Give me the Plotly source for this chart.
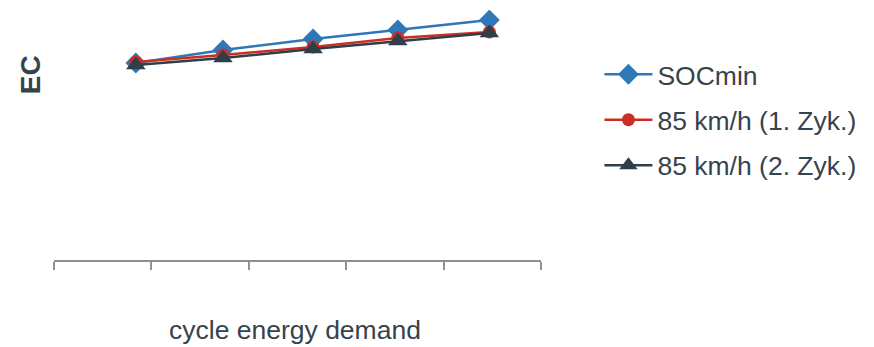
import plotly.graph_objects as go

# Data (arbitrary EC units)
x_demand = [0.84, 1.735, 2.66, 3.53, 4.47]
soc_min = [197, 210, 221, 230, 240]
kmh85_cyc1 = [198, 205, 213, 222, 228]
kmh85_cyc2 = [195, 202, 211, 219, 227]
series_names = ["SOCmin", "85 km/h (1. Zyk.)", "85 km/h (2. Zyk.)"]
x_title = "cycle energy demand"
y_title = "EC"

FONT = "Liberation Sans, Arial, sans-serif"
TXT = "#36434D"

fig = go.Figure()
fig.add_trace(go.Scatter(
    x=x_demand, y=soc_min, name=series_names[0], mode="lines+markers",
    line=dict(color="#2E78B7", width=2.5),
    marker=dict(symbol="diamond", size=16, color="#2E78B7"),
    legendgroup="a"))
fig.add_trace(go.Scatter(
    x=x_demand, y=kmh85_cyc1, name=series_names[1], mode="lines+markers",
    line=dict(color="#CC2E24", width=2.5),
    marker=dict(symbol="circle", size=13, color="#CC2E24"),
    legendgroup="b"))
fig.add_trace(go.Scatter(
    x=x_demand, y=kmh85_cyc2, name=series_names[2], mode="lines+markers",
    line=dict(color="#2F3E48", width=2.5),
    marker=dict(symbol="triangle-up", size=17, color="#2F3E48"),
    legendgroup="c"))

# the page body adds an 8px margin, so the figure is 8px smaller and shifted
fig.update_layout(
    width=866, height=339,
    margin=dict(l=46, r=333, t=2, b=87, autoexpand=False),
    paper_bgcolor="white", plot_bgcolor="white",
    font=dict(family=FONT, color=TXT, size=26.5),
    xaxis=dict(
        range=[0, 5], dtick=1, tick0=0, showticklabels=False,
        showline=True, linecolor="#8C9196", linewidth=2,
        ticks="outside", ticklen=8, tickwidth=2, tickcolor="#8C9196",
        showgrid=False, zeroline=False, automargin=False,
    ),
    yaxis=dict(range=[0, 250], visible=False, automargin=False),
    legend=dict(
        x=1.12, y=0.838, xanchor="left", yanchor="top",
        font=dict(size=26.5, color=TXT), itemwidth=48,
        tracegroupgap=8, bgcolor="rgba(0,0,0,0)",
    ),
    showlegend=True,
)

fig.add_annotation(
    text="<b>" + y_title + "</b>", textangle=-90, xref="paper", yref="paper",
    x=-0.049, y=0.74, xanchor="center", yanchor="middle", showarrow=False,
    font=dict(size=28, color=TXT, family=FONT),
)
fig.add_annotation(
    text=x_title, xref="paper", yref="paper",
    x=0.495, y=-0.28, xanchor="center", yanchor="middle", showarrow=False,
    font=dict(size=26.5, color=TXT, family=FONT),
)

fig.write_html("out.html")
